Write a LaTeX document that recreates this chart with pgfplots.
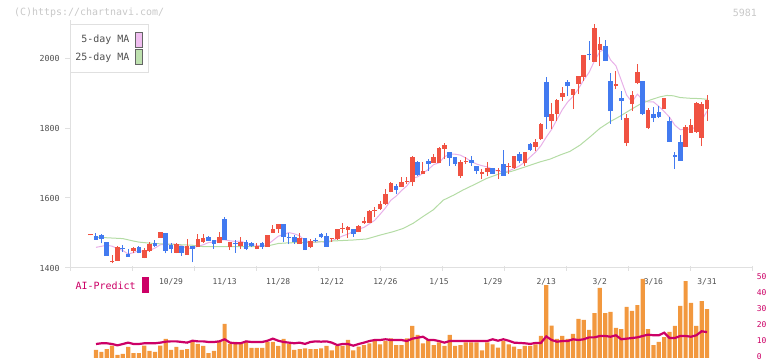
\documentclass[border=0pt]{standalone}
\usepackage{pgfplots}
\pgfplotsset{compat=1.18}
\usepackage{pgfplotstable}
\usepackage{fontspec}
\setmainfont{DejaVu Sans Mono}
\definecolor{upred}{RGB}{240,82,66}
\definecolor{downblue}{RGB}{66,122,240}
\definecolor{mafive}{RGB}{232,176,232}
\definecolor{mafivefill}{RGB}{240,190,240}
\definecolor{matf}{RGB}{180,220,165}
\definecolor{matffill}{RGB}{190,225,175}
\definecolor{axisgray}{RGB}{224,224,224}
\definecolor{textgray}{RGB}{80,80,80}
\definecolor{wmgray}{RGB}{200,200,200}
\definecolor{barorange}{RGB}{242,152,62}
\definecolor{aimag}{RGB}{204,0,102}
\definecolor{swatchgray}{RGB}{100,100,100}

\pgfplotstableread{
i o h l c
-1 1493.5 1496.5 1493.5 1496.5
3 1417 1437 1413 1420
4 1421 1462 1421 1460
7 1449.5 1461 1442 1456
9 1429.5 1457 1427.6 1451
10 1449.5 1475 1447 1469.5
12 1487 1503 1487 1503
15 1444 1470 1442 1468.5
17 1437 1482 1437 1463
19 1461 1496 1461 1483
20 1475 1496 1472 1487
23 1470.4 1503 1470 1489.5
25 1461 1475 1451 1473
27 1464 1488 1454 1473
30 1454 1470 1453 1464
32 1461 1493 1461 1493
33 1501 1523 1501 1512
34 1510 1526 1501 1526
38 1468.5 1499 1468 1485
40 1460 1482 1456 1478
44 1483 1487 1475 1486
45 1482 1512 1480 1510
46 1511 1528 1499 1514
47 1508.5 1520 1485 1516
49 1504 1522 1502 1520
50 1527.6 1547 1526 1534
51 1529.5 1566 1529 1564
52 1564 1573 1545 1567
53 1567.6 1590 1566 1583
54 1583 1625 1580 1611
55 1618 1646 1616 1644
57 1632 1659 1632 1646
58 1646 1659 1640 1649
59 1645 1720 1635 1718
61 1669 1703 1669 1677
63 1701 1725 1701 1718
64 1701 1746 1700 1744
65 1741 1758 1711 1751
68 1663 1708 1658 1704
69 1702 1718 1697 1705
72 1669 1682 1654 1675
73 1675 1702 1663 1686
75 1676 1685 1654 1679
77 1688 1699 1668 1691
78 1686 1720 1684 1720
80 1701 1731 1692 1731
82 1746 1768 1734 1760
83 1768 1814 1766 1811
85 1821 1871 1797 1840
86 1840 1883 1821 1880
87 1888 1917 1877 1900
89 1894 1911 1854 1911
90 1925.5 1948 1897 1948
91 1945.5 2008 1934 2008
93 1988 2097 1988 2085
94 2023 2060 1977 2040
97 1920 1963 1911 1925
99 1757 1840 1748 1828
100 1868 1905 1848 1894
101 1928 1983 1925 1960
103 1800 1857 1797 1851
106 1854 1885.5 1854 1885.5
110 1746 1808 1746 1803
111 1786 1825 1786 1808
112 1788 1874 1786 1871
113 1771 1874 1748 1868
114 1854 1894 1820 1880
}\upcandles

\pgfplotstableread{
i o h l c
0 1492.5 1501 1480 1481
1 1494.5 1496 1470 1483
2 1474 1474 1435 1435
5 1456 1466 1447 1453
6 1440 1453 1432 1432
8 1460 1463 1442 1444
11 1472 1480 1461 1464
13 1500 1500 1442 1449.5
14 1465 1470 1442 1454
16 1463 1463 1435 1444
18 1463 1463 1416 1454
21 1488.5 1491 1477 1477
22 1480 1480 1455 1468.5
24 1540 1547 1480 1480
26 1471 1480 1444 1468
28 1475 1480 1451 1454
29 1472 1475 1461 1464
31 1472 1475 1454 1459
35 1526 1526 1475 1488
36 1489 1499 1468 1486
37 1488 1494 1468 1475
39 1485 1485 1451 1451
41 1480 1486 1473 1477
42 1497 1501 1485 1488
43 1492 1501 1461 1461
48 1510 1511 1489.5 1497
56 1634 1640 1611 1623
60 1704 1705 1664 1666
62 1706.5 1711 1678 1698
66 1731 1731 1692 1715
67 1717 1717 1692 1698
70 1710 1720 1692 1701
71 1692 1692 1668 1678
74 1686 1686 1668 1669
76 1698 1737 1664 1664
79 1726 1731 1699 1707
81 1754 1757 1735 1737
84 1931 1945 1797 1831
88 1931 1937 1891 1920
92 2011 2048 1994 2008
95 2034 2051 1991 1991
96 1934 1957 1811 1848
98 1885.5 1905.5 1823 1877
102 1934 1934 1837 1840
104 1840 1860 1817 1828
105 1845.5 1863 1828 1831
107 1820 1831 1760 1760
108 1723 1731 1683 1718
109 1760 1780 1706 1706
}\downcandles

\begin{document}
\begin{tikzpicture}
\path[use as bounding box] (0bp,0bp) rectangle (772bp,361bp);
\begin{axis}[
  at={(70bp,93bp)}, anchor=south west, scale only axis,
  width=682.6bp, height=248.5bp,
  xmin=-4.85, xmax=122.5, ymin=1400, ymax=2110,
  axis x line*=bottom, axis y line*=left,
  axis line style={draw=axisgray, line width=1bp},
  x axis line style={-, shorten <=-5bp},
  y axis line style={-},
  tick align=outside, major tick length=5bp,
  xtick pos=lower, ytick pos=left,
  xtick={-4.757,6.81,18.377,29.94,41.51,53.08,64.64,76.21,87.78,99.34,110.91,122.48},
  xticklabels={},
  xtick style={draw=axisgray, line width=1bp, yshift=2bp},
  ytick={1400,1600,1800,2000},
  ytick style={draw=axisgray, line width=1bp},
  yticklabel style={font=\fontsize{8.3}{10}\selectfont, text=textgray, xshift=-2bp},
  /pgf/number format/1000 sep={}, /pgf/number format/assume math mode=true,
  extra x ticks={14,24,34,44,54,64,74,84,94,104,114},
  extra x tick labels={10/29,11/13,11/28,12/12,12/26,1/15,1/29,2/13,3/2,3/16,3/31},
  extra x tick style={major tick length=0bp, xtick style={draw=none},
     xticklabel style={font=\fontsize{8}{10}\selectfont, text=textgray, anchor=center, yshift=-14bp}},
  legend style={at={(0,0.982)}, anchor=north west, draw=axisgray, line width=1bp, fill=white,
     font=\fontsize{10}{12}\selectfont, text=textgray, inner xsep=3bp, inner ysep=7.5bp, row sep=1.5bp,
     column sep=4bp},
  legend plot pos=right, legend cell align=right,
]
\addplot[mafive, line width=1bp, mark=none,
  legend image code/.code={\draw[fill=mafivefill, draw=swatchgray, line width=0.8bp] (0bp,-7.5bp) rectangle (6.5bp,7.5bp); \path (9bp,0bp);}]
coordinates {(0,1459) (1,1462) (2,1465) (3,1462.4) (4,1455.4) (5,1450) (6,1439.8) (7,1444) (8,1449.2) (9,1447.4)
(10,1450.5) (11,1456.9) (12,1466.3) (13,1467.4) (14,1468) (15,1467.8) (16,1463.8) (17,1455.8) (18,1456.7) (19,1462.5)
(20,1466.2) (21,1472.8) (22,1473.9) (23,1481) (24,1480.4) (25,1477.6) (26,1476) (27,1476.9) (28,1469.8) (29,1466.6)
(30,1464.8) (31,1462.8) (32,1466.8) (33,1478.4) (34,1490.8) (35,1495.6) (36,1501.2) (37,1497.6) (38,1492.2) (39,1477.2)
(40,1475.2) (41,1473.4) (42,1476) (43,1471.2) (44,1478) (45,1484.4) (46,1491.4) (47,1497) (48,1504.2) (49,1511.2)
(50,1516) (51,1526.2) (52,1536.2) (53,1553.4) (54,1571.6) (55,1593.6) (56,1605.4) (57,1621.4) (58,1634.6) (59,1656)
(60,1660.4) (61,1671.2) (62,1681.6) (63,1695.4) (64,1700.6) (65,1717.6) (66,1725.2) (67,1725.2) (68,1722.4) (69,1714.4)
(70,1704.4) (71,1697) (72,1692.4) (73,1688.8) (74,1681.8) (75,1677.2) (76,1674.4) (77,1677.4) (78,1684.2) (79,1691.8)
(80,1702.4) (81,1717) (82,1731) (83,1749.2) (84,1774) (85,1795.8) (86,1824.4) (87,1852.4) (88,1874.2) (89,1890.2)
(90,1911.8) (91,1937.4) (92,1959) (93,1992) (94,2017.8) (95,2026.4) (96,1994.4) (97,1977.8) (98,1936.2) (99,1893.8)
(100,1874.4) (101,1896.8) (102,1879.8) (103,1874.6) (104,1874.6) (105,1862) (106,1847) (107,1831) (108,1808) (109,1795)
(110,1797) (111,1797) (112,1803) (113,1822) (114,1848)};
\addlegendentry{5-day MA}
\addplot[matf, line width=1bp, mark=none,
  legend image code/.code={\draw[fill=matffill, draw=swatchgray, line width=0.8bp] (0bp,-7.5bp) rectangle (6.5bp,7.5bp); \path (9bp,0bp);}]
coordinates {(0,1488) (5,1484) (7,1477) (8,1474) (10,1471) (12,1469) (15,1467) (18,1465) (20,1461) (25,1461)
(30,1461) (32,1463) (34,1470) (36,1472) (40,1473) (44,1477) (48,1480) (50.5,1483) (53,1494) (55.5,1504)
(57.3,1513) (59.2,1528) (61,1547) (62.9,1566) (64.8,1594) (66.7,1608) (68.5,1623) (70.4,1637) (72.9,1656) (75.4,1670)
(77.5,1676) (80.3,1690) (82.8,1703) (84.7,1711) (86.6,1723) (88.4,1733) (90.3,1751) (92.2,1775) (94,1799) (95.9,1818)
(97.8,1834) (99.6,1851) (101.5,1868) (103.4,1880) (105.2,1889) (106.5,1893) (107.7,1892) (109,1887) (110.8,1885) (112.7,1884) (114,1882)};
\addlegendentry{25-day MA}
% wicks
\addplot[forget plot, draw=none, mark=none, error bars/.cd, y dir=plus, y explicit, error mark=none,
  error bar style={draw=upred, line width=1bp}]
  table[x=i, y=l, y error plus expr=\thisrow{h}-\thisrow{l}] {\upcandles};
\addplot[forget plot, draw=none, mark=none, error bars/.cd, y dir=plus, y explicit, error mark=none,
  error bar style={draw=downblue, line width=1bp}]
  table[x=i, y=l, y error plus expr=\thisrow{h}-\thisrow{l}] {\downcandles};
% bodies
\addplot[forget plot, draw=none, mark=none, error bars/.cd, y dir=plus, y explicit, error mark=none,
  error bar style={draw=upred, line width=4.6bp}]
  table[x=i, y=o, y error plus expr=\thisrow{c}-\thisrow{o}] {\upcandles};
\addplot[forget plot, draw=none, mark=none, error bars/.cd, y dir=plus, y explicit, error mark=none,
  error bar style={draw=downblue, line width=4.6bp}]
  table[x=i, y=c, y error plus expr=\thisrow{o}-\thisrow{c}] {\downcandles};
\end{axis}

\begin{axis}[
  at={(70bp,3bp)}, anchor=south west, scale only axis,
  width=682.6bp, height=80bp,
  xmin=-4.85, xmax=122.5, ymin=0, ymax=50,
  axis line style={draw=none},
  xtick=\empty,
  ytick={0,10,20,30,40,50},
  yticklabel pos=right,
  ytick style={draw=none},
  yticklabel style={font=\fontsize{8}{10}\selectfont, text=aimag, anchor=west, yshift=1bp, xshift=2.5bp, inner sep=1.5bp},
  /pgf/number format/assume math mode=true,
  clip=false,
]
\addplot[ybar, bar width=4.2bp, bar shift=0pt, fill=barorange, draw=none]
coordinates {(0,5) (1,3.75) (2,5.6) (3,7.7) (4,1.9) (5,2.5) (6,6.9) (7,3.1) (8,3.1) (9,7.7)
(10,4.4) (11,3.75) (12,7.7) (13,11.9) (14,5) (15,6.9) (16,5) (17,5.6) (18,10) (19,8.75)
(20,7.5) (21,3.1) (22,4.4) (23,10) (24,21.25) (25,8.75) (26,10) (27,8.75) (28,10) (29,6.25)
(30,6.25) (31,6.25) (32,10) (33,10) (34,7.5) (35,11.9) (36,8.75) (37,5) (38,5.6) (39,6)
(40,5.6) (41,5.6) (42,6) (43,7.5) (44,4.8) (45,7.5) (46,7.5) (47,11.25) (48,4.8) (49,7.1)
(50,8.1) (51,9.2) (52,10.6) (53,8.5) (54,10.6) (55,12.3) (56,8.1) (57,8.1) (58,12.3) (59,20)
(60,14.4) (61,9.2) (62,11.25) (63,8.1) (64,9.8) (65,7.5) (66,14.4) (67,7.5) (68,8.1) (69,9.8)
(70,9.8) (71,9.8) (72,4.8) (73,9.8) (74,8.5) (75,6.5) (76,10.6) (77,8.5) (78,7.1) (79,5.6)
(80,7.5) (81,7.5) (82,8.5) (83,13.75) (84,45.6) (85,20.2) (86,11.9) (87,13.75) (88,11.9) (89,15)
(90,24.4) (91,23.75) (92,17.5) (93,28.1) (94,43.75) (95,28.1) (96,28.75) (97,18.75) (98,18.1) (99,31.9)
(100,29.4) (101,33.1) (102,49.4) (103,18.1) (104,8.1) (105,10) (106,13.1) (107,16.25) (108,20) (109,32.5)
(110,48.1) (111,34.4) (112,20) (113,35.6) (114,30.6)};
\addplot[aimag, line width=2.2bp, mark=none]
coordinates {(0,8.75) (1,9.2) (2,9.2) (3,8.75) (4,7.9) (5,8.75) (6,9.6) (7,8.75) (8,8.75) (9,9.2)
(10,9.2) (11,9.2) (12,9.6) (13,10.2) (14,10.4) (15,10.4) (16,10) (17,9.6) (18,10.8) (19,10.4)
(20,10.4) (21,10) (22,10) (23,10.4) (24,11.7) (25,9.6) (26,9.2) (27,9.2) (28,10.4) (29,10)
(30,10) (31,10) (32,10.8) (33,12.1) (34,10.8) (35,10) (36,9.6) (37,9.2) (38,9.6) (39,8.8)
(40,10) (41,10.4) (42,10.2) (43,10.4) (44,9.6) (45,8.1) (46,8.75) (47,8.75) (48,7.7) (49,8.75)
(50,9.6) (51,10.6) (52,11.25) (53,11.25) (54,11.7) (55,11.25) (56,11.25) (57,11.25) (58,10.6) (59,12.1)
(60,12.7) (61,13.3) (62,11.25) (63,11.25) (64,10.6) (65,9.6) (66,10.6) (67,10.6) (68,10.6) (69,10.6)
(70,10.6) (71,10.6) (72,10.6) (73,10.6) (74,11.7) (75,10.8) (76,11.7) (77,10.8) (78,9.6) (79,9.4)
(80,9.2) (81,8.8) (82,9.4) (83,9.4) (84,13.5) (85,11.25) (86,10.2) (87,10.6) (88,10.6) (89,11.7)
(90,11.25) (91,11.7) (92,12.9) (93,12.9) (94,13.75) (95,13.75) (96,13.3) (97,14.2) (98,11.7) (99,12.1)
(100,12.5) (101,12.9) (102,13.75) (103,14.6) (104,14.2) (105,14.2) (106,15.8) (107,12.5) (108,12.5) (109,13.75)
(110,13.75) (111,13.3) (112,14.2) (113,16.7) (114,16.2)};
\end{axis}

\node[anchor=west, inner sep=0pt, text=wmgray, font=\fontsize{10}{12}\selectfont] at (14bp,348.5bp) {(C)https://chartnavi.com/};
\node[anchor=east, inner sep=0pt, text=wmgray, font=\fontsize{10}{12}\selectfont] at (757bp,348.5bp) {5981};
\node[anchor=west, inner sep=0pt, text=aimag, font=\fontsize{10}{12}\selectfont] at (75.5bp,75.5bp) {AI-Predict};
\fill[aimag] (142bp,68.3bp) rectangle (148.7bp,84bp);
\end{tikzpicture}
\end{document}
